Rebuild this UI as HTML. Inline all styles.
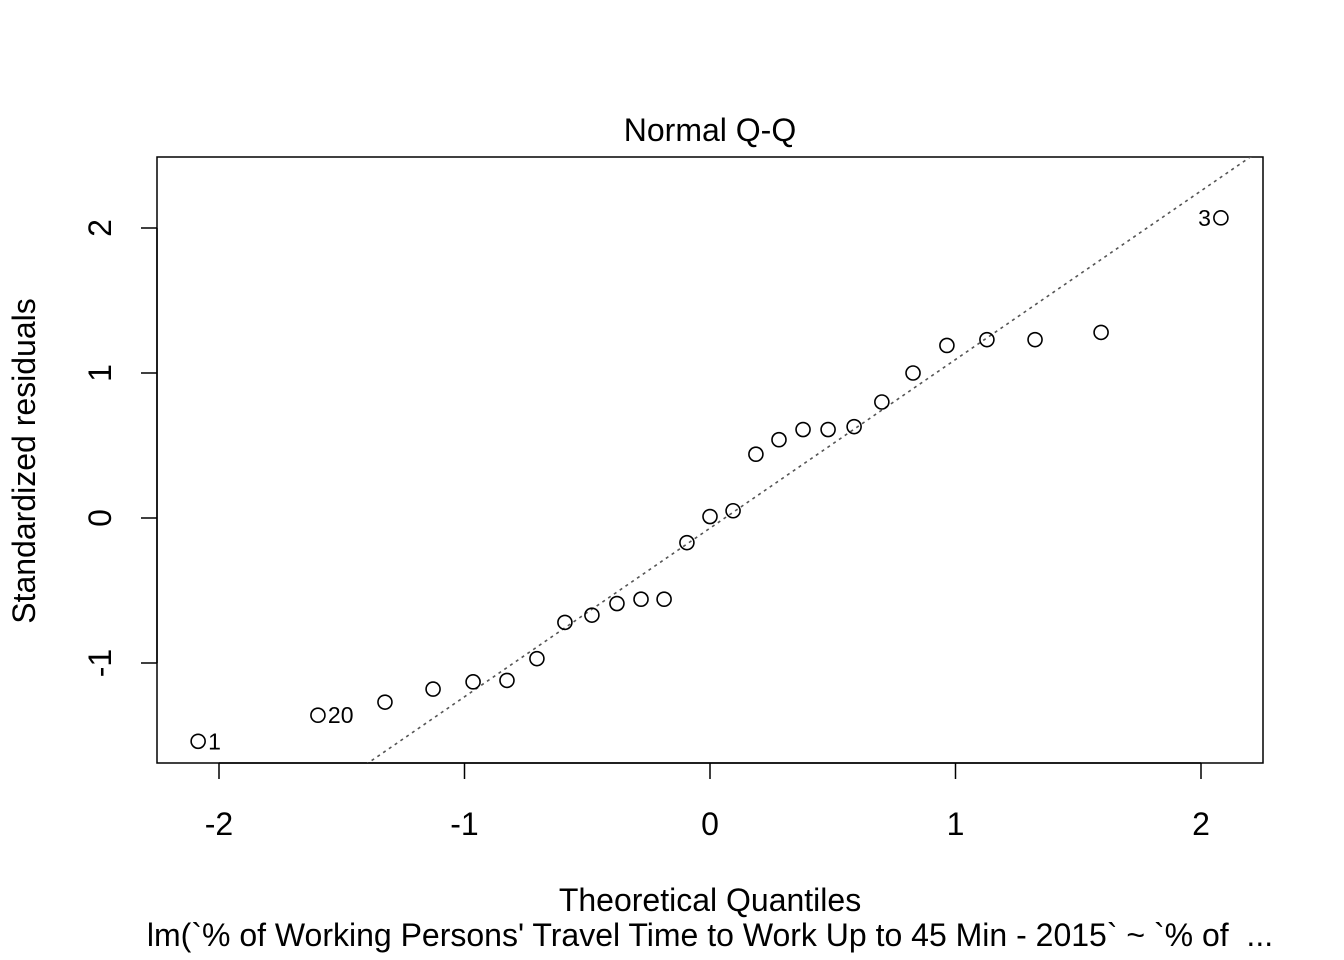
<!DOCTYPE html>
<html><head><meta charset="utf-8"><style>
html,body{margin:0;padding:0;background:#fff;overflow:hidden;width:1344px;height:960px;}
svg{display:block;font-family:"Liberation Sans",Arial,sans-serif;}
</style></head><body>
<svg id="chart" width="1344" height="960" viewBox="0 0 1344 960">
<text x="710" y="141" font-size="32" text-anchor="middle">Normal Q-Q</text>
<rect x="157" y="157" width="1106" height="606" fill="none" stroke="#000" stroke-width="1.5"/>
<g id="xaxis"></g>
<g id="yaxis"></g>
<text x="710" y="911" font-size="32" text-anchor="middle">Theoretical Quantiles</text>
<text x="710" y="946" font-size="32" text-anchor="middle" xml:space="preserve" style="white-space:pre">lm(`% of Working Persons' Travel Time to Work Up to 45 Min - 2015` ~ `% of  ...</text>
<text transform="translate(35,461) rotate(-90)" font-size="32" text-anchor="middle">Standardized residuals</text>
<g id="marks"></g>
</svg>
<script>
const xTicks = [-2, -1, 0, 1, 2];
const yTicks = [-1, 0, 1, 2];
const theoretical = [-2.085,-1.597,-1.324,-1.128,-0.965,-0.827,-0.705,-0.591,-0.481,-0.379,-0.281,-0.187,-0.094,0,0.094,0.187,0.281,0.379,0.481,0.587,0.70,0.827,0.965,1.128,1.324,1.593,2.081];
const residuals = [-1.54,-1.36,-1.27,-1.18,-1.13,-1.12,-0.97,-0.72,-0.67,-0.59,-0.56,-0.56,-0.17,0.01,0.05,0.44,0.54,0.61,0.61,0.63,0.80,1.00,1.19,1.23,1.23,1.28,2.07];
const labels = ["1","20","","","","","","","","","","","","","","","","","","","","","","","","","3"];
const refLine = [1.163, -0.07]; // slope, intercept

const NS = "http://www.w3.org/2000/svg";
const X = v => 710 + v * 245.5;
const Y = v => 518 - v * 145;
function mk(tag, attrs, parent) {
  const e = document.createElementNS(NS, tag);
  for (const k in attrs) e.setAttribute(k, attrs[k]);
  parent.appendChild(e);
  return e;
}
const xa = document.getElementById('xaxis'), ya = document.getElementById('yaxis'), marks = document.getElementById('marks');
mk('line', {x1: X(xTicks[0]), x2: X(xTicks[xTicks.length-1]), y1: 763, y2: 763, stroke: '#000', 'stroke-width': 1.5}, xa);
xTicks.forEach(t => {
  mk('line', {x1: X(t), x2: X(t), y1: 763, y2: 779, stroke: '#000', 'stroke-width': 1.5}, xa);
  const tx = mk('text', {x: X(t), y: 835, 'font-size': 32, 'text-anchor': 'middle'}, xa);
  tx.textContent = t;
  
  
});
mk('line', {x1: 157, x2: 157, y1: Y(yTicks[0]), y2: Y(yTicks[yTicks.length-1]), stroke: '#000', 'stroke-width': 1.5}, ya);
yTicks.forEach(t => {
  mk('line', {x1: 141, x2: 157, y1: Y(t), y2: Y(t), stroke: '#000', 'stroke-width': 1.5}, ya);
  const tx = mk('text', {transform: `translate(111,${Y(t)}) rotate(-90)`, 'font-size': 32, 'text-anchor': 'middle'}, ya);
  tx.textContent = t;
  
  
});
const cp = mk('clipPath', {id: 'clipbox'}, document.getElementById('chart'));
mk('rect', {x: 157, y: 157, width: 1106, height: 606}, cp);
const ln = mk('line', {x1: X(-3), y1: Y(refLine[1] + refLine[0] * -3), x2: X(3), y2: Y(refLine[1] + refLine[0] * 3), stroke: '#555', 'stroke-width': 1.6, 'stroke-dasharray': '3,4', 'clip-path': 'url(#clipbox)'}, marks);


theoretical.forEach((q, i) => {
  const c = mk('circle', {cx: X(q), cy: Y(residuals[i]), r: 7, fill: 'none', stroke: '#000', 'stroke-width': 1.6}, marks);
  
  
  if (labels[i]) {
    const right = i < theoretical.length / 2;
    const t = mk('text', {x: right ? X(q) + 10 : X(q) - 10, y: Y(residuals[i]) + 8, 'font-size': 23, 'text-anchor': right ? 'start' : 'end'}, marks);
    t.textContent = labels[i];
    
    
  }
});
</script>
</body></html>
